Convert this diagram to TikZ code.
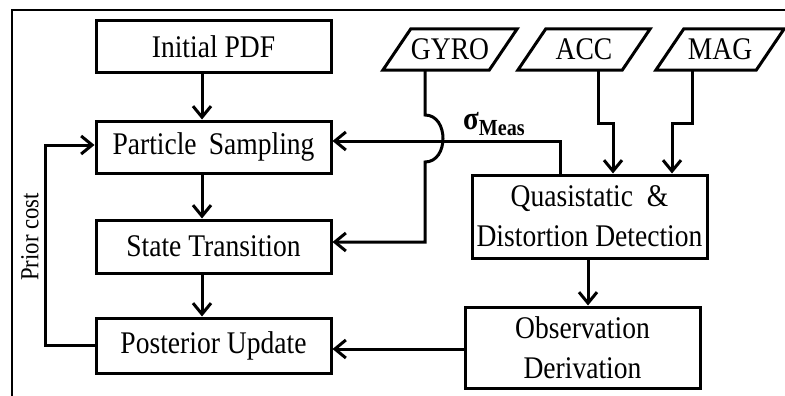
\documentclass[tikz,border=0pt]{standalone}
\usepackage{fontspec}
\setmainfont{Liberation Serif}[FakeStretch=0.875]
\usetikzlibrary{arrows.meta,calc}
\begin{document}
\begin{tikzpicture}[x=1pt,y=-1pt,
  box/.style={draw,line width=3pt,minimum width=235pt,inner sep=0pt,align=center,
    font=\fontsize{31.5}{40}\selectfont},
  sensor/.style={minimum width=106pt,minimum height=41pt,inner sep=0pt,
    font=\fontsize{31.5}{40}\selectfont},
  arr/.style={line width=3pt,-{Straight Barb[length=11pt,width=18pt]}}
]
\useasboundingbox (0,0) rectangle (785,396);
% frame
\draw[line width=2.4pt] (12,396) -- (12,10) -- (785,10);

% left column
\node[box,minimum height=52pt] (init) at (213.5,47) {Initial PDF};
\node[box,minimum height=52pt] (ps) at (213.5,147) {Particle \,Sampling};
\node[box,minimum height=53pt] (st) at (213.5,246.5) {State Transition};
\node[box,minimum height=55pt] (pu) at (213.5,345.5) {Posterior Update};

% right column
\node[box,minimum height=83pt] (qd) at (589.5,216.5) {Quasistatic \ \&\\Distortion Detection};
\node[box,minimum height=81pt] (od) at (582.5,347.5) {Observation\\Derivation};

% sensors
\node[sensor] (gyro) at (450,49.5) {GYRO};
\node[sensor,minimum width=104pt] (acc) at (584,49.5) {ACC};
\node[sensor,minimum width=100pt] (mag) at (720,49.5) {MAG};
\foreach \n in {gyro,acc,mag}
  \draw[line width=3pt,line join=miter]
    ($(\n.south west)+(-14,0)$) -- ($(\n.north west)+(14,0)$) --
    ($(\n.north east)+(14,0)$) -- ($(\n.south east)+(-14,0)$) -- cycle;

% helper coordinates
\coordinate (ax) at (202,0);
\coordinate (sig) at (560,141);
\coordinate (gx) at (425,0);
\coordinate (gst) at (425,242);
\coordinate (fb) at (45,0);

% left column arrows
\draw[arr] (init.south -| ax) -- (ps.north -| ax);
\draw[arr] (ps.south -| ax) -- (st.north -| ax);
\draw[arr] (st.south -| ax) -- (pu.north -| ax);

% feedback loop
\draw[arr] (pu.west) -- (pu.west -| fb) -- (fb |- 0,145) -- (ps.west |- 0,145);
\node[rotate=90,font=\fontsize{26}{26}\selectfont] (prior) at (30,237) {Prior cost};

% sigma line
\draw[arr] (qd.north -| sig) -- (sig) -- (sig -| ps.east);
\node[font=\bfseries] (sigma) at (494,124)
  {\fontsize{33}{33}\selectfont σ\raisebox{-6pt}{\fontsize{23}{23}\selectfont Meas}};

% gyro line with jump
\draw[arr] (gyro.south -| gx) -- (425,115)
  .. controls (449,115) and (449,162) .. (425,162) -- (gst) -- (gst -| st.east);

% acc and mag lines
\draw[arr] (acc.south -| 598,0) -- (598,123) -- (613,123) -- (qd.north -| 613,0);
\draw[arr] (mag.south -| 692,0) -- (692,123) -- (672,123) -- (qd.north -| 672,0);

% quasistatic -> observation -> posterior
\draw[arr] (qd.south -| 588,0) -- (od.north -| 588,0);
\draw[arr] (od.west |- 0,349) -- (pu.east |- 0,349);
\end{tikzpicture}
\end{document}
